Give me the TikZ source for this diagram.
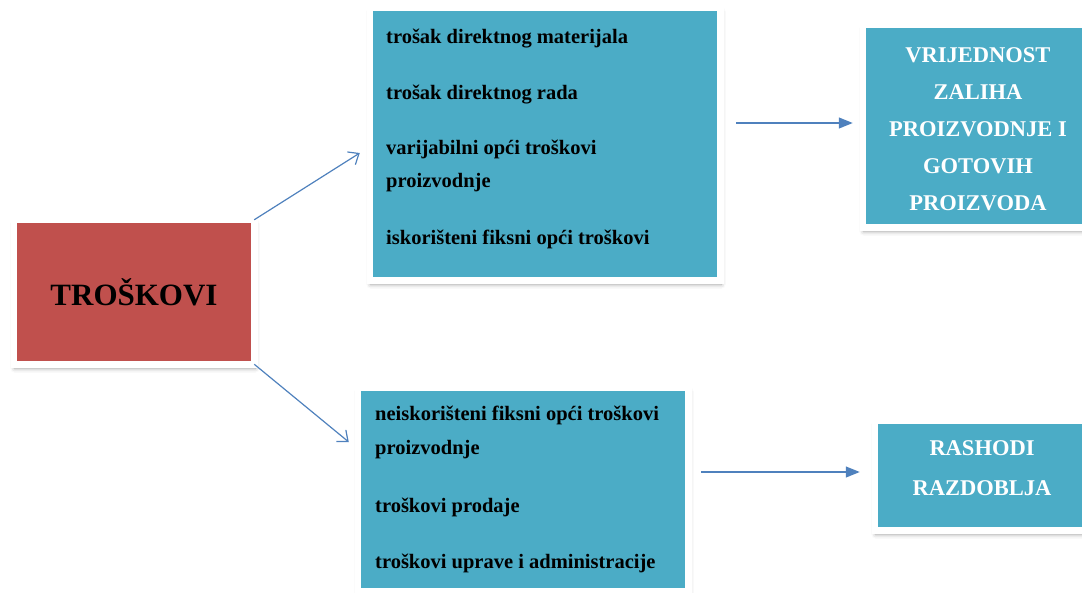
\documentclass[tikz,border=0pt]{standalone}
\usepackage{fontspec}
\setmainfont{Liberation Serif}
\usepackage{tikz}
\usetikzlibrary{arrows.meta}
\usetikzlibrary{shadows.blur}
\definecolor{kred}{HTML}{C0504D}
\definecolor{kaqua}{HTML}{4BACC6}
\definecolor{karrow}{HTML}{4F81BD}
\tikzset{
	okvir/.style={draw=white, line width=6.5pt, outer sep=0pt, inner sep=0pt, blur shadow={shadow xshift=1pt, shadow yshift=-4pt, shadow blur radius=4.5pt, shadow opacity=40}},
	popis/.style={align=left, inner sep=0pt, font=\fontsize{20.5}{33}\selectfont\bfseries},
	naslov/.style={align=center, inner sep=0pt, text=white, font=\fontsize{22.5}{37}\selectfont\bfseries},
	strelica/.style={line width=1.2pt, karrow}
}
\begin{document}
\begin{tikzpicture}[x=1pt,y=-1pt]
		\useasboundingbox (0,0) rectangle (1082,592);
		\node[okvir, fill=kred, minimum width=240.5pt, minimum height=144.5pt, font=\fontsize{31}{37}\selectfont\bfseries] (troskovi) at (134,292) {TROŠKOVI};
		\node[okvir, fill=kaqua, minimum width=350.5pt, minimum height=272.5pt] (proizvodni) at (545,144) {};
		\node[okvir, fill=kaqua, minimum width=230.5pt, minimum height=202.5pt] (zalihe) at (978,126) {};
		\node[okvir, fill=kaqua, minimum width=330.5pt, minimum height=203.5pt] (razdoblja) at (523,489.5) {};
		\node[okvir, fill=kaqua, minimum width=214.5pt, minimum height=109.5pt] (rashodi) at (982,475.5) {};
		\node[popis, anchor=base west] (popisgore) at ([shift={(16.25,-36.25)}]proizvodni.south west) {trošak direktnog materijala\\[23pt] trošak direktnog rada\\[22pt] varijabilni opći troškovi\\ proizvodnje\\[24pt] iskorišteni fiksni opći troškovi};
		\node[popis, anchor=base west, font=\fontsize{20.5}{34}\selectfont\bfseries] (popisdolje) at ([shift={(17.25,-23.25)}]razdoblja.south west) {neiskorišteni fiksni opći troškovi\\ proizvodnje\\[24pt] troškovi prodaje\\[22pt] troškovi uprave i administracije};
		\node[naslov, anchor=base] (zalihetekst) at ([shift={(0,-17.25)}]zalihe.south) {VRIJEDNOST\\ ZALIHA\\ PROIZVODNJE I\\ GOTOVIH\\ PROIZVODA};
		\node[naslov, anchor=base, font=\fontsize{22.5}{40}\selectfont\bfseries] (rashoditekst) at ([shift={(0,-35.25)}]rashodi.south) {RASHODI\\ RAZDOBLJA};
		\draw[strelica, -{Straight Barb[length=9pt,width=15pt]}] (troskovi.north east) -- ([shift={(-10,9)}]proizvodni.west);
		\draw[strelica, -{Straight Barb[length=9pt,width=15pt]}] (troskovi.south east) -- ([shift={(-9,-47.5)}]razdoblja.west);
		\draw[strelica, -{Triangle[length=14pt,width=11pt]}] ([shift={(16,-21)}]proizvodni.east) -- ([shift={(-10,-3)}]zalihe.west);
		\draw[strelica, -{Triangle[length=14pt,width=11pt]}] ([shift={(13,-17.5)}]razdoblja.east) -- ([shift={(-15,-3.5)}]rashodi.west);
		\end{tikzpicture}
\end{document}
